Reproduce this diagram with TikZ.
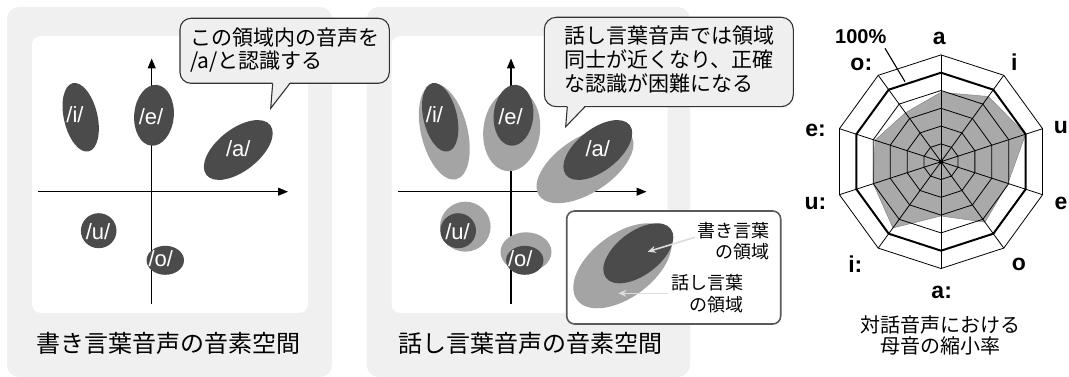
\documentclass[tikz,border=0pt]{standalone}
\usepackage{fontspec}
\setmainfont{Liberation Sans}
\newfontfamily\jp{Noto Sans CJK JP}
\usetikzlibrary{arrows.meta}
\definecolor{panelbg}{HTML}{F0F0F0}
\definecolor{darkell}{HTML}{4B4B4B}
\definecolor{lightell}{HTML}{A4A4A4}
\definecolor{callbg}{HTML}{EFEFEF}
\definecolor{callline}{HTML}{333333}
\definecolor{radarfill}{HTML}{A9A9A9}
\definecolor{legline}{HTML}{5A5A5A}
\definecolor{legarrow}{HTML}{DCDCDC}
\tikzset{
  panel/.style={fill=panelbg, rounded corners=12pt},
  plane/.style={fill=white, rounded corners=9pt},
  axis/.style={line width=1.1pt, -{Triangle[length=10pt,width=8pt]}},
  vlabel/.style={text=white, font=\fontsize{22}{22}\selectfont, anchor=base, inner sep=0pt},
  jptext/.style={font=\jp\fontsize{21}{21}\selectfont, inner sep=0pt, text height=.88em, text depth=.12em},
  captext/.style={font=\jp\fontsize{24}{24}\selectfont, inner sep=0pt, text height=.88em, text depth=.12em, anchor=west},
  legtext/.style={font=\jp\fontsize{18}{18}\selectfont, inner sep=0pt, text height=.88em, text depth=.12em, anchor=east},
  radtext/.style={font=\jp\fontsize{20}{20}\selectfont, inner sep=0pt, text height=.88em, text depth=.12em},
  rlabel/.style={font=\bfseries\fontsize{23}{23}\selectfont, anchor=base, inner sep=0pt},
  callout/.style={fill=callbg, draw=callline, line width=1.1pt},
  legarr/.style={draw=legarrow, line width=1.6pt, -{Stealth[length=8pt,width=7pt]}},
  rline/.style={line width=0.8pt},
  rthick/.style={line width=2pt},
}
\begin{document}
\begin{tikzpicture}[x=1pt,y=-1pt]
\useasboundingbox (0,0) rectangle (1069,377);

% ---------- panel 1 ----------
\fill[panel] (7,7) rectangle (332,377);
\fill[plane] (32,36) rectangle (308,313);
\coordinate (h1l) at (38,191.7);
\coordinate (h1r) at (288,191.7);
\coordinate (v1b) at (151.7,304);
\coordinate (v1t) at (151.7,58.5);
\draw[axis] (h1l) -- (h1r);
\draw[axis] (v1b) -- (v1t);
\fill[darkell, rotate around={13:(80.7,117.3)}] (80.7,117.3) ellipse [x radius=16.8, y radius=35];
\fill[darkell, rotate around={-5:(154,115.3)}] (154,115.3) ellipse [x radius=19.8, y radius=30.5];
\fill[darkell, rotate around={38:(238.3,150)}] (238.3,150) ellipse [x radius=40.5, y radius=21];
\fill[darkell] (98.7,230.7) ellipse [x radius=17.8, y radius=17.5];
\fill[darkell] (165.3,260.3) ellipse [x radius=18.7, y radius=14.5];
\node[vlabel] (i1) at (75,123) {/i/};
\node[vlabel] (e1) at (151,124.3) {/e/};
\node[vlabel] (a1) at (238.3,156.7) {/a/};
\node[vlabel] (u1) at (98,240) {/u/};
\node[vlabel] (o1) at (160.8,266.7) {/o/};
\node[captext] (cap1) at (36,348.3) {書き言葉音声の音素空間};

% ---------- panel 2 ----------
\fill[panel] (366.7,7) rectangle (690,377);
\fill[plane] (391.5,36) rectangle (667.5,313);
\coordinate (h2l) at (398.3,191.7);
\coordinate (h2r) at (646.5,191.7);
\coordinate (v2b) at (511,304);
\coordinate (v2t) at (511,58.5);
\draw[axis] (h2l) -- (h2r);
\draw[axis] (v2b) -- (v2t);
\fill[lightell, rotate around={14:(444.3,131.7)}] (444.3,131.7) ellipse [x radius=23.2, y radius=49];
\fill[lightell, rotate around={-7:(511.7,130.3)}] (511.7,130.3) ellipse [x radius=28.3, y radius=41];
\fill[lightell, rotate around={33:(585,165.3)}] (585,165.3) ellipse [x radius=54.9, y radius=27.7];
\fill[lightell] (465.3,226.7) ellipse [x radius=25.3, y radius=25];
\fill[lightell] (526,252) ellipse [x radius=25.5, y radius=19.7];
\begin{scope}[xshift=359.5pt]
\fill[darkell, rotate around={13:(80.7,117.3)}] (80.7,117.3) ellipse [x radius=16.8, y radius=35];
\fill[darkell, rotate around={-5:(154,115.3)}] (154,115.3) ellipse [x radius=19.8, y radius=30.5];
\fill[darkell, rotate around={38:(238.3,150)}] (238.3,150) ellipse [x radius=40.5, y radius=21];
\fill[darkell] (98.7,230.7) ellipse [x radius=17.8, y radius=17.5];
\fill[darkell] (165.3,260.3) ellipse [x radius=18.7, y radius=14.5];
\node[vlabel] (i2) at (75,123) {/i/};
\node[vlabel] (e2) at (151,124.3) {/e/};
\node[vlabel] (a2) at (238.3,156.7) {/a/};
\node[vlabel] (u2) at (98,240) {/u/};
\node[vlabel] (o2) at (160.8,266.7) {/o/};
\end{scope}
% legend
\draw[fill=white, draw=legline, line width=1.6pt, rounded corners=8pt] (566.7,211) rectangle (780.7,324);
\fill[lightell, rotate around={37:(622.5,265.8)}] (622.5,265.8) ellipse [x radius=56.8, y radius=31.6];
\fill[darkell, rotate around={37:(638.3,253.3)}] (638.3,253.3) ellipse [x radius=40.6, y radius=21.8];
\node[legtext] (l1a) at (770,233.3) {書き言葉};
\node[legtext] (l1b) at (770,255) {の領域};
\node[legtext] (l2a) at (743.3,286) {話し言葉};
\node[legtext] (l2b) at (743.3,307.7) {の領域};
\coordinate (la1s) at (695,237.3);
\coordinate (la1e) at (647.7,251.7);
\coordinate (la2s) at (668.3,293.3);
\coordinate (la2e) at (618.3,293.3);
\draw[legarr] (la1s) -- (la1e);
\draw[legarr] (la2s) -- (la2e);
\node[captext] (cap2) at (398.3,348.3) {話し言葉音声の音素空間};

% ---------- callouts (on top) ----------
\draw[callout, rounded corners=11pt] (180,18.3) rectangle (389.3,83.3);
\fill[callbg] (272.7,82) -- (270.7,108.3) -- (290,82) -- cycle;
\draw[callline, line width=1.1pt, line join=miter] (272.7,83.3) -- (270.7,108.3) -- (290,83.3);
\node[jptext, anchor=west] (c1a) at (190,41.7) {この領域内の音声を};
\node[jptext, anchor=west] (c1b) at (190,65) {/a/と認識する};

\draw[callout, rounded corners=12pt] (544.3,17.3) rectangle (793.3,106.7);
\fill[callbg] (567.3,105.4) -- (565.7,126.7) -- (585,105.4) -- cycle;
\draw[callline, line width=1.1pt, line join=miter] (567.3,106.7) -- (565.7,126.7) -- (585,106.7);
\node[jptext, anchor=west] (c2a) at (564.3,39.3) {話し言葉音声では領域};
\node[jptext, anchor=west] (c2b) at (564.3,63.3) {同士が近くなり、正確};
\node[jptext, anchor=west] (c2c) at (564.3,87.3) {な認識が困難になる};

% ---------- radar ----------
\begin{scope}[shift={(941,161.7)}, x=1pt, y=1pt]
\def\ru{17.8}
\fill[radarfill, draw=radarfill!80!black, line width=0.5pt]
  (90:0.78*5*\ru) -- (54:0.905*5*\ru) -- (18:1.0*5*\ru) -- (-18:0.79*5*\ru)
  -- (-54:0.84*5*\ru) -- (-90:0.61*5*\ru) -- (-126:0.92*5*\ru) -- (-162:0.80*5*\ru)
  -- (162:0.78*5*\ru) -- (126:0.68*5*\ru) -- cycle;
\foreach \k in {1,2,3,4,6} {
  \draw[rline] (90:\k*\ru) \foreach \t in {54,18,-18,-54,-90,-126,-162,162,126} { -- (\t:\k*\ru) } -- cycle;
}
\draw[rthick] (90:5*\ru) \foreach \t in {54,18,-18,-54,-90,-126,-162,162,126} { -- (\t:5*\ru) } -- cycle;
\foreach \t in {90,54,18,-18,-54,-90,-126,-162,162,126} {
  \draw[rline] (0,0) -- (\t:6*\ru);
}
\fill (0,0) circle (2.2);
\end{scope}
\coordinate (pct1) at (885,48.3);
\coordinate (pct2) at (905,81.7);
\draw[line width=1.1pt] (pct1) -- (pct2);
\node[rlabel, font=\bfseries\fontsize{20}{20}\selectfont] (p100) at (860.8,44) {100\%};
\node[rlabel] (ra) at (939.3,45) {a};
\node[rlabel] (ri) at (1014.3,71) {i};
\node[rlabel] (ru) at (1061,133.5) {u};
\node[rlabel] (re) at (1061,209) {e};
\node[rlabel] (ro) at (1019,270.5) {o};
\node[rlabel] (raa) at (941.7,298.3) {a:};
\node[rlabel] (rii) at (855.3,272) {i:};
\node[rlabel] (ruu) at (815.5,209) {u:};
\node[rlabel] (ree) at (815.5,137) {e:};
\node[rlabel] (roo) at (861.3,71) {o:};
\node[radtext] (rc1) at (940.7,328.3) {対話音声における};
\node[radtext] (rc2) at (940.7,350) {母音の縮小率};
\end{tikzpicture}
\end{document}
